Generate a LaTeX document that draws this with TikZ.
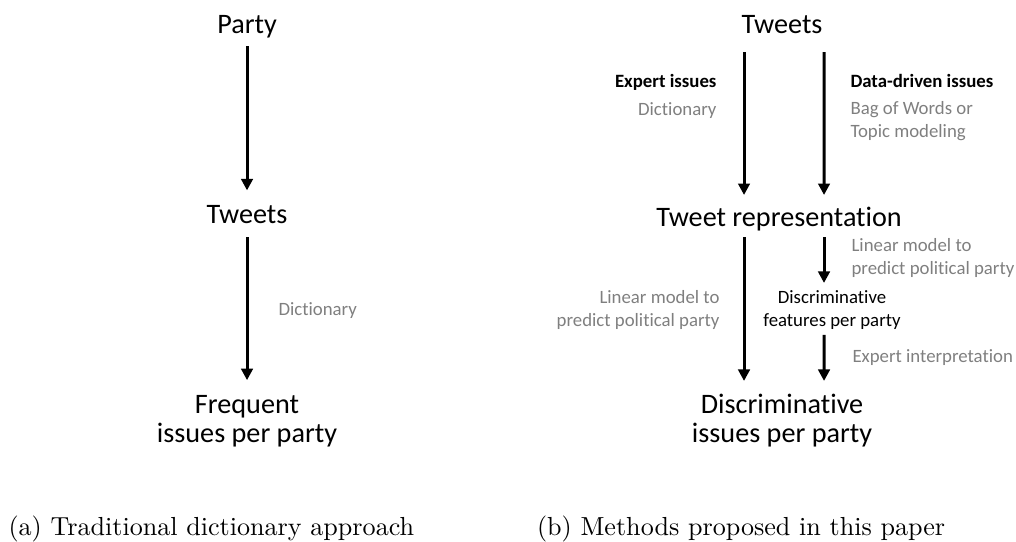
\documentclass[tikz,border=0pt]{standalone}
\usepackage{fontspec}
\usepackage{tikz}
\usetikzlibrary{arrows.meta}
\newfontfamily\calibri[Ligatures=NoCommon]{Carlito}
\definecolor{notegray}{HTML}{7F7F7F}

\begin{document}
\begin{tikzpicture}[
  stage/.style={font=\calibri\fontsize{10.8}{11.1}\selectfont, inner sep=0pt, align=center},
  note/.style={font=\calibri\fontsize{7.2}{8.6}\selectfont, inner sep=0pt, color=notegray},
  notehead/.style={font=\calibri\bfseries\fontsize{7.2}{8.6}\selectfont, inner sep=0pt},
  flow/.style={line width=1.15pt, -{Triangle[width=4.4pt,length=4.4pt]}, shorten <=5pt, shorten >=12.5pt}
]
\useasboundingbox (0,0) rectangle (13.68,7.285);

\node[stage, anchor=base] (party) at (3.326,6.840) {Party};
\node[stage, anchor=base] (tweetsA) at (3.326,4.282) {Tweets};
\node[stage, anchor=base] (freq) at (3.326,1.333) {Frequent\\issues per party};
\node[note, anchor=base west] (dictA) at (3.743,3.043) {Dictionary};

\draw[flow] (party.base) -- (tweetsA.base);
\draw[flow, shorten <=5.4pt, shorten >=23.7pt] (tweetsA.base) -- (freq.base);

\node[stage, anchor=base] (tweetsB) at (10.530,6.840) {Tweets};
\node[stage, anchor=base] (rep) at (10.489,4.241) {Tweet representation};
\node[stage, anchor=base] (disc) at (10.530,1.333) {Discriminative\\issues per party};
\node[font=\calibri\fontsize{7.2}{8.8}\selectfont, inner sep=0pt, align=center, anchor=base] (feat) at (11.203,2.895) {Discriminative\\features per party};

\node[notehead, anchor=base east] (expert) at (9.654,6.113) {Expert issues};
\node[note, anchor=base east] (dictB) at (9.654,5.736) {Dictionary};
\node[notehead, anchor=base west] (datadriven) at (11.445,6.113) {Data-driven issues};
\node[note, align=left, anchor=base west] (bow) at (11.445,5.440) {Bag of Words or\\Topic modeling};
\node[note, align=left, anchor=base west] (linR) at (11.459,3.595) {Linear model to\\predict political party};
\node[note, align=right, anchor=base east] (linL) at (9.695,2.895) {Linear model to\\predict political party};
\node[note, anchor=base west] (interp) at (11.472,2.410) {Expert interpretation};

\draw[flow, shorten <=7.3pt, shorten >=11.9pt] ([xshift=-0.512cm]tweetsB.base) -- ([xshift=-0.471cm]rep.base);
\draw[flow, shorten <=7.3pt, shorten >=11.9pt] ([xshift=0.566cm]tweetsB.base) -- ([xshift=0.606cm]rep.base);
\draw[flow, shorten <=4.2pt, shorten >=23.4pt] ([xshift=-0.471cm]rep.base) -- ([xshift=-0.512cm]disc.base);
\draw[flow, shorten <=4.2pt, shorten >=16.5pt] ([xshift=0.606cm]rep.base) -- ([xshift=-0.108cm]feat.base);
\draw[flow, shorten <=3.4pt, shorten >=23.4pt] ([xshift=-0.108cm]feat.base) -- ([xshift=0.566cm]disc.base);

\node[anchor=base west, inner sep=0pt] (capA) at (0.108,0.081) {(a) Traditional dictionary approach};
\node[anchor=base west, inner sep=0pt] (capB) at (7.224,0.081) {(b) Methods proposed in this paper};
\end{tikzpicture}
\end{document}
